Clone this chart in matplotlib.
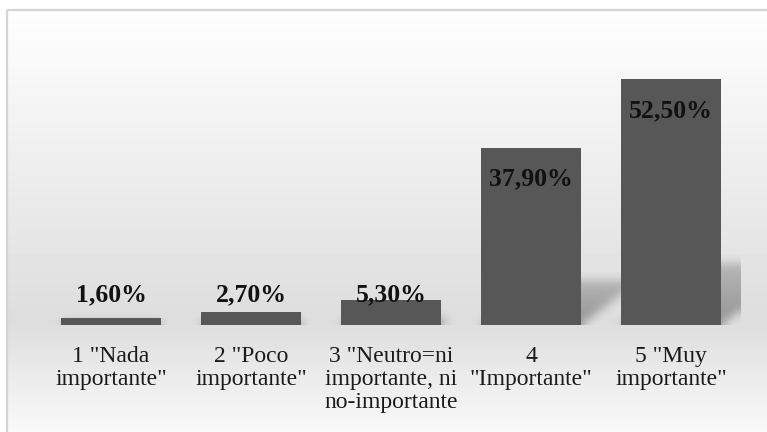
import numpy as np
import matplotlib
matplotlib.use("Agg")
import matplotlib.pyplot as plt
from matplotlib.patches import Rectangle

# survey answers and share of respondents (%)
categorias = ['1 "Nada\nimportante"', '2 "Poco\nimportante"',
              '3 "Neutro=ni\nimportante, ni\nno-importante',
              '4\n"Importante"', '5 "Muy\nimportante"']
porcentajes = [1.6, 2.7, 5.3, 37.9, 52.5]
etiquetas = ["1,60%", "2,70%", "5,30%", "37,90%", "52,50%"]

W, H = 767, 432
fig = plt.figure(figsize=(W / 100, H / 100), dpi=100)

# background: vertical grey gradient inside a light frame
yy = np.arange(H)
prof = np.interp(yy, [10, 320, 432], [254, 221, 249])
bg = np.repeat(prof[:, None], W, axis=1)
bg[:9, :] = 255
bg[:, :6] = 255
ax_bg = fig.add_axes([0, 0, 1, 1], zorder=-5)
ax_bg.imshow(bg, cmap="gray", vmin=0, vmax=255, aspect="auto",
             extent=[0, W, H, 0], interpolation="bilinear")
ax_bg.set_xlim(0, W)
ax_bg.set_ylim(H, 0)
ax_bg.axis("off")
ax_bg.add_patch(Rectangle((6.5, 9.5), W + 10, H + 10, fill=False,
                          edgecolor="#d4d4d4", linewidth=1.6))

# plot area in pixels: x 41..741, baseline at y=325, top at y=44
left, right, base, top = 41, 741, 325, 44
ax = fig.add_axes([left / W, (H - base) / H, (right - left) / W, (base - top) / H])
ax.set_facecolor("none")
ymax = 60
ax.set_xlim(-0.5, len(porcentajes) - 0.5)
ax.set_ylim(0, ymax)
ancho = 0.714

# soft perspective shadows behind the bars
nx, ny = right - left, base - top
pxu = nx / len(porcentajes)
pyu = ny / ymax
sh = np.zeros((ny, nx))
rows = np.arange(ny)[:, None]          # height above the baseline in px
cols = np.arange(nx)[None, :]
for i, v in enumerate(porcentajes):
    h = v * pyu
    dx, kh = 0.33 * h, 0.25 * h
    x0 = (i + 0.5 - ancho / 2) * pxu
    x1 = (i + 0.5 + ancho / 2) * pxu
    t = np.clip(rows / max(kh, 1), 0, None)
    inside = (rows <= kh) & (cols >= x0 + dx * t) & (cols <= x1 + dx * t)
    sh = np.maximum(sh, inside * (1 - 0.4 * t))


def caja(a, r, eje):
    c = np.cumsum(np.pad(a, [(r + 1, r) if k == eje else (0, 0) for k in range(2)],
                         mode="edge"), axis=eje)
    if eje == 0:
        return (c[2 * r + 1:] - c[:-2 * r - 1]) / (2 * r + 1)
    return (c[:, 2 * r + 1:] - c[:, :-2 * r - 1]) / (2 * r + 1)


for _ in range(3):
    sh = caja(caja(sh, 4, 0), 4, 1)
rgba = np.zeros((ny, nx, 4))
rgba[..., 3] = 0.33 * sh
ax.imshow(rgba[::-1], extent=[-0.5, len(porcentajes) - 0.5, 0, ymax],
          aspect="auto", zorder=1, interpolation="bilinear")

x = np.arange(len(porcentajes))
ax.bar(x, porcentajes, width=ancho, color="#575757", zorder=2)

for i, (v, txt) in enumerate(zip(porcentajes, etiquetas)):
    if v > 20:
        ax.annotate(txt, (i, v), xytext=(0, -22.5), textcoords="offset points",
                    ha="center", va="center", fontsize=18.5, fontweight="bold",
                    family="Liberation Serif", color="#111111", zorder=3)
    else:
        ax.annotate(txt, (i, 0), xytext=(0, 21.5), textcoords="offset points",
                    ha="center", va="center", fontsize=18.5, fontweight="bold",
                    family="Liberation Serif", color="#111111", zorder=3)

ax.set_xticks(x)
ax.set_xticklabels(categorias, fontsize=17, family="Liberation Serif",
                   color="#1a1a1a", linespacing=1.12)
ax.tick_params(axis="x", length=0, pad=15)
ax.set_yticks([])
for s in ax.spines.values():
    s.set_visible(False)

fig.savefig("out.png", dpi=100)
